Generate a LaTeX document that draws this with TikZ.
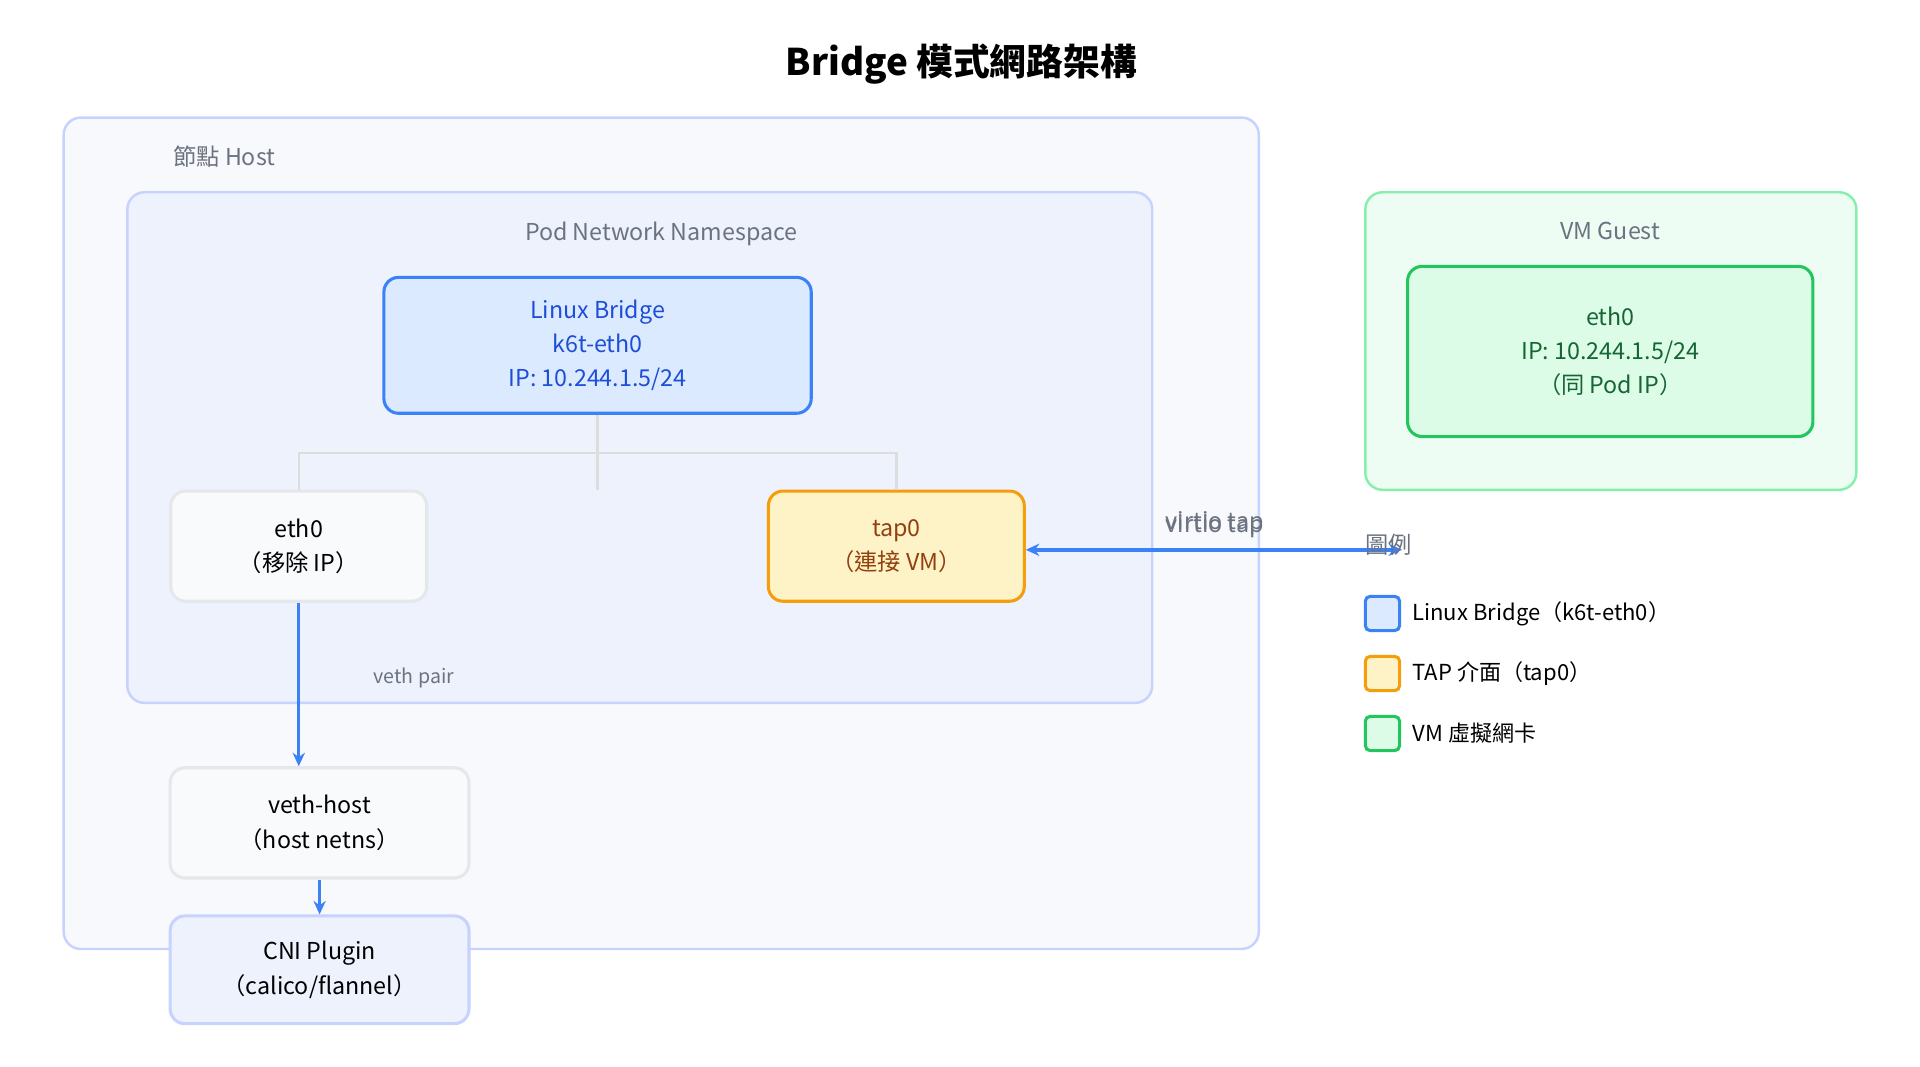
\documentclass[tikz,border=0pt]{standalone}
\usepackage{fontspec}
\setmainfont{Noto Sans CJK TC}
\usetikzlibrary{arrows.meta}
\definecolor{hostfill}{HTML}{F8F9FD}
\definecolor{hostline}{HTML}{C7D2FE}
\definecolor{nsfill}{HTML}{EEF2FD}
\definecolor{brfill}{HTML}{DBEAFE}
\definecolor{brline}{HTML}{3B82F6}
\definecolor{brtext}{HTML}{1D4ED8}
\definecolor{tapfill}{HTML}{FEF3C7}
\definecolor{tapline}{HTML}{F59E0B}
\definecolor{taptext}{HTML}{92400E}
\definecolor{vmfill}{HTML}{DCFCE7}
\definecolor{vmline}{HTML}{22C55E}
\definecolor{vmtext}{HTML}{166534}
\definecolor{guestfill}{HTML}{EDFDF3}
\definecolor{guestline}{HTML}{86EFAC}
\definecolor{greytext}{HTML}{6B7280}
\definecolor{plainfill}{HTML}{F9FAFB}
\definecolor{plainline}{HTML}{E5E7EB}
\definecolor{tree}{HTML}{DDDDDD}

\begin{document}
\begin{tikzpicture}[x=1pt, y=-1pt, >={Stealth[length=11pt,width=10pt]}]
    \tikzstyle{region}=[rounded corners=14pt, line width=2pt]
    \tikzstyle{box}=[rounded corners=12pt, line width=2.5pt, align=center, font=\fontsize{19}{28}\selectfont]
    \tikzstyle{caption}=[text=greytext, font=\fontsize{19}{22}\selectfont]
    \tikzstyle{link}=[->, brline, line width=2.8pt]
    \tikzstyle{swatch}=[rounded corners=4pt, line width=2.5pt, minimum size=28pt, inner sep=0pt]

    \useasboundingbox (0,0) rectangle (1568,871);

    \node[font=\fontsize{30}{34}\selectfont\bfseries] (title) at (785,52) {Bridge 模式網路架構};

    % host and namespace
    \draw[region, fill=hostfill, draw=hostline] (52,96) rectangle (1028,775);
    \node[caption, anchor=west] (hostlbl) at (138,128) {節點 Host};
    \draw[region, fill=nsfill, draw=hostline] (104,157) rectangle (941,574);
    \node[caption] (nslbl) at (540,191) {Pod Network Namespace};

    \node[box, fill=brfill, draw=brline, text=brtext, minimum width=349pt, minimum height=111pt]
        (bridge) at (488,282) {Linux Bridge\\k6t-eth0\\IP: 10.244.1.5/24};
    \node[box, fill=plainfill, draw=plainline, minimum width=209pt, minimum height=90pt]
        (eth) at (244,446) {eth0\\（移除 IP）};
    \node[box, fill=tapfill, draw=tapline, text=taptext, minimum width=209pt, minimum height=90pt]
        (tap) at (732,446) {tap0\\（連接 VM）};

    \draw[tree, line width=2pt] (bridge.south) -- (488,400)
        (244,400) -- (244,370) -- (732,370) -- (732,400);

    \node[box, fill=plainfill, draw=plainline, minimum width=244pt, minimum height=90pt]
        (veth) at (261,672) {veth-host\\（host netns）};
    \node[box, fill=nsfill, draw=hostline, minimum width=244pt, minimum height=88pt]
        (cni) at (261,792) {CNI Plugin\\（calico/flannel）};

    \draw[link] (eth.south) -- (eth.south |- veth.north);
    \node[caption, font=\fontsize{16}{18}\selectfont] (vethlbl) at (338,554) {veth pair};
    \draw[link] (veth.south) -- (cni.north);

    % guest
    \draw[region, fill=guestfill, draw=guestline] (1115,157) rectangle (1516,400);
    \node[caption] (guestlbl) at (1315,189) {VM Guest};
    \node[box, fill=vmfill, draw=vmline, text=vmtext, minimum width=331pt, minimum height=139pt]
        (vmeth) at (1315,287) {eth0\\IP: 10.244.1.5/24\\（同 Pod IP）};

    \coordinate (tapend) at (1145,449);
    \draw[link, <->] (tap.east |- tapend) -- (tapend);
    \node[caption] (virtio) at (992,427) {virtio tap};
    \node[caption] (virtio2) at (992,430) {virtio tap};

    % legend
    \node[caption, anchor=west, inner sep=0pt] (legend) at (1115,445) {圖例};
    \node[swatch, fill=brfill, draw=brline] (sw1) at (1129,501) {};
    \node[swatch, fill=tapfill, draw=tapline] (sw2) at (1129,550) {};
    \node[swatch, fill=vmfill, draw=vmline] (sw3) at (1129,599) {};
    \node[anchor=west, font=\fontsize{18}{20}\selectfont] (lg1) at (1150,501) {Linux Bridge（k6t-eth0）};
    \node[anchor=west, font=\fontsize{18}{20}\selectfont] (lg2) at (1150,550) {TAP 介面（tap0）};
    \node[anchor=west, font=\fontsize{18}{20}\selectfont] (lg3) at (1150,599) {VM 虛擬網卡};
\end{tikzpicture}
\end{document}
